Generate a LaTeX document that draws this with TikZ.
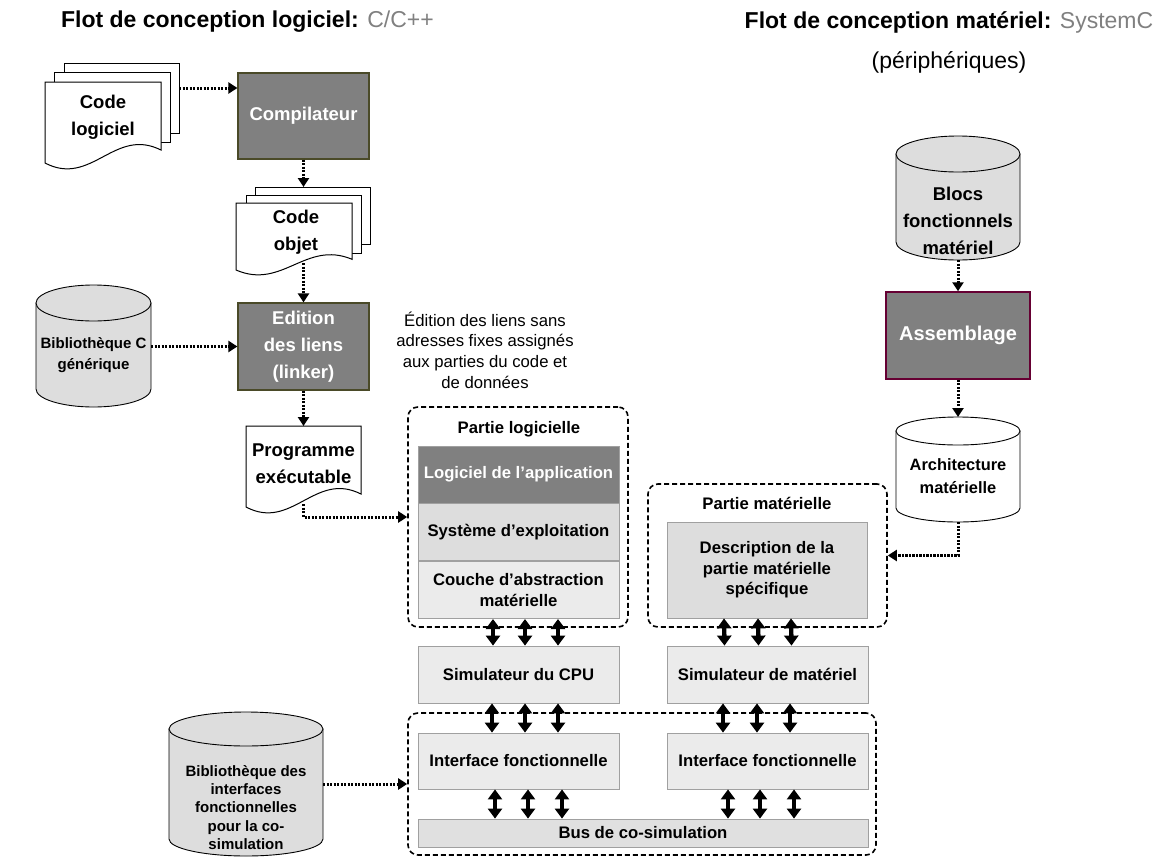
\documentclass[tikz,border=0pt]{standalone}
\usepackage{fontspec}
\setmainfont{Liberation Sans}
\usepackage{tikz}
\usetikzlibrary{arrows.meta}
\usetikzlibrary{positioning}
\usetikzlibrary{calc}

\definecolor{boxgray}{HTML}{808080}
\definecolor{layergray}{HTML}{DDDDDD}
\definecolor{palegray}{HTML}{EBEBEB}
\definecolor{edgegray}{HTML}{A0A0A0}
\definecolor{olivedark}{HTML}{4A4A28}
\definecolor{assemblyred}{HTML}{660033}
\definecolor{titlegray}{HTML}{808080}

\begin{document}
\begin{tikzpicture}[x=1pt, y=-1pt]
    \useasboundingbox (0,0) rectangle (1163,857);

    \newcommand{\docfont}[0]{\fontsize{18.5}{27}\selectfont\bfseries}
    \newcommand{\labelfont}[0]{\fontsize{16.7}{20.5}\selectfont\bfseries}
    \newcommand{\dbfont}[0]{\fontsize{15}{21}\selectfont\bfseries}

    \tikzstyle{title} = [
      align=center,
      inner sep=0pt,
      font=\fontsize{23}{40}\selectfont\bfseries,
    ]
    \tikzstyle{flow} = [
      line width=3pt,
      dash pattern=on 2.2pt off 1.3pt,
      -{Triangle[width=11pt,length=9pt]},
      draw=black,
    ]
    \tikzstyle{link} = [
      line width=4.4pt,
      {Triangle[width=14pt,length=10pt]}-{Triangle[width=14pt,length=10pt]},
      draw=black,
    ]
    \tikzstyle{tool} = [
      align=center,
      draw=olivedark,
      line width=1.2pt,
      fill=boxgray,
      text=white,
      font=\docfont,
      inner sep=0pt,
      minimum width=131pt,
      minimum height=86pt,
    ]
    \tikzstyle{doctext} = [
      align=center,
      font=\docfont,
      inner sep=0pt,
    ]
    \tikzstyle{docline} = [
      draw=black,
      fill=white,
      line width=1pt,
    ]
    \tikzstyle{dbtext} = [
      align=center,
      inner sep=0pt,
    ]
    \tikzstyle{zone} = [
      draw=black,
      dash pattern=on 5pt off 3pt,
      line width=1.6pt,
      rounded corners=10pt,
    ]
    \tikzstyle{layer} = [
      align=center,
      draw=edgegray,
      line width=0.8pt,
      font=\labelfont,
      inner sep=0pt,
      minimum width=201pt,
      minimum height=57pt,
    ]
    \tikzstyle{sim} = [
      layer,
      fill=palegray,
    ]

    % page with a wavy foot: left, top, right, bottom
    \newcommand{\docpage}[4]{
      \filldraw[docline] (#1,#2) -- (#3,#2) -- (#3,{#4-0.16*(#4-#2)})
        .. controls ({#1+0.6*(#3-#1)},{#4-0.45*(#4-#2)}) and ({#1+0.4*(#3-#1)},{#4+0.3*(#4-#2)}) .. (#1,#4) -- cycle;
    }
    % database drum: centre x, top, bottom, half width, cap radius, fill
    \newcommand{\dbcyl}[6]{
      \filldraw[draw=black, line width=0.9pt, fill=#6] (#1-#4,#2+#5) -- (#1-#4,#3-#5)
        .. controls (#1-#4,{#3-#5+0.552*#5}) and ({#1-0.552*#4},#3) .. (#1,#3)
        .. controls ({#1+0.552*#4},#3) and (#1+#4,{#3-#5+0.552*#5}) .. (#1+#4,#3-#5)
        -- (#1+#4,#2+#5) -- cycle;
      \filldraw[draw=black, line width=0.9pt, fill=#6] (#1,#2+#5) ellipse [x radius=#4, y radius=#5];
    }

    % titles
    {
      \node[title, anchor=east, font=\fontsize{23}{27}\selectfont\bfseries] (swFlow) at (434,22)
        {Flot de conception logiciel: {\mdseries\color{titlegray}C/C++}};
      \node[title] (hwFlow) at (949,42)
        {Flot de conception matériel: {\mdseries\color{titlegray}SystemC}\\{\mdseries(périphériques)}};
    }

    % software flow
    {
      \filldraw[docline] (64,63) rectangle (179,133);
      \filldraw[docline] (54,72) rectangle (170,142);
      \docpage{45}{82}{161}{163}
      \node[doctext] (codeSrc) at (103,117) {Code\\logiciel};
      \coordinate (codeOut) at (179,88);

      \node[tool] (compiler) at (303.5,116) {Compilateur};
      \draw[flow] (codeOut) -- (compiler.west |- codeOut);

      \filldraw[docline] (255,187) rectangle (370,244);
      \filldraw[docline] (246,195) rectangle (361,253);
      \docpage{236}{203}{352}{270}
      \node[doctext] (codeObj) at (296,232.5) {Code\\objet};
      \coordinate (objIn) at (303.5,187);
      \coordinate (objOut) at (303.5,263);
      \draw[flow] (compiler.south) -- (objIn);

      \node[tool, minimum height=87pt] (linker) at (303.5,346.5) {Edition\\des liens\\(linker)};
      \draw[flow] (objOut) -- (linker.north);

      \dbcyl{93.5}{285}{407}{57.5}{18}{layergray}
      \node[dbtext, font=\dbfont, minimum width=115pt] (libC) at (93.5,355.5) {Bibliothèque C\\générique};
      \draw[flow] (libC.east |- linker.west) -- (linker.west);

      \docpage{246}{426}{361}{507}
      \node[doctext] (prog) at (303.5,463.5) {Programme\\exécutable};
      \coordinate (progIn) at (303.5,426);
      \coordinate (progOut) at (303.5,504);
      \draw[flow] (linker.south) -- (progIn);

      \node[align=center, inner sep=0pt, font=\fontsize{16.7}{20.7}\selectfont] (linkNote) at (485,350)
        {Édition des liens sans\\adresses fixes assignés\\aux parties du code et\\de données};
    }

    % partie logicielle
    {
      \node[zone, minimum width=220pt, minimum height=220pt] (swPart) at (518,517) {};
      \node[font=\labelfont, inner sep=0pt] (swTitle) at (519,429) {Partie logicielle};
      \node[layer, fill=boxgray, text=white] (appSw) at (518.5,474.5) {Logiciel de l’application};
      \node[layer, fill=layergray, below=0pt of appSw] (os) {Système d’exploitation};
      \node[layer, fill=palegray, below=0pt of os] (hal) {Couche d’abstraction\\matérielle};
      \draw[flow] (progOut) |- (swPart.west);
    }

    % hardware flow
    {
      \dbcyl{958}{136}{260}{62}{18}{layergray}
      \node[dbtext, font=\docfont, align=center] (blocs) at (958,220.5) {Blocs\\fonctionnels\\matériel};
      \coordinate (blocsOut) at (958,260);

      \node[tool, draw=assemblyred, line width=1.5pt, minimum width=144pt, minimum height=87pt,
        font=\fontsize{20}{24}\selectfont\bfseries] (assembly) at (958,335.5) {Assemblage};
      \draw[flow] (blocsOut) -- (assembly.north);

      \dbcyl{958}{417}{522}{62}{14}{white}
      \node[dbtext, font=\fontsize{16.4}{23}\selectfont\bfseries] (archi) at (958,476.5) {Architecture\\matérielle};
      \coordinate (archIn) at (958,417);
      \coordinate (archOut) at (958,522);
      \draw[flow] (assembly.south) -- (archIn);
    }

    % partie materielle
    {
      \node[zone, minimum width=239pt, minimum height=143pt] (hwPart) at (767.5,555.5) {};
      \node[font=\labelfont, inner sep=0pt] (hwTitle) at (767,503) {Partie matérielle};
      \node[layer, fill=layergray, minimum width=200pt, minimum height=96pt] (desc) at (767,570)
        {Description de la\\partie matérielle\\spécifique};
      \draw[flow] (archOut) |- (hwPart.east);
    }

    % simulators
    {
      \node[sim] (simCPU) at (518.5,674.5) {Simulateur du CPU};
      \node[sim] (simHW) at (767.5,674.5) {Simulateur de matériel};
    }

    % co-simulation
    {
      \node[zone, minimum width=468pt, minimum height=142pt] (cosim) at (642,784) {};
      \node[sim, minimum height=56pt] (ifSW) at (518.5,761) {Interface fonctionnelle};
      \node[sim, minimum height=56pt] (ifHW) at (767.5,761) {Interface fonctionnelle};
      \node[sim, fill=palegray!90!gray, minimum width=450pt, minimum height=28pt] (bus) at (643,833) {Bus de co-simulation};

      \dbcyl{246}{712}{856}{77}{17}{layergray}
      \node[dbtext, font=\fontsize{15}{18.3}\selectfont\bfseries, minimum width=154pt] (libIf) at (246,807.5)
        {Bibliothèque des\\interfaces\\fonctionnelles\\pour la co-\\simulation};
      \draw[flow] (libIf.east |- cosim.west) -- (cosim.west);
    }

    % links
    {
      \foreach \dx in {-25.5, 6.5, 39.5}
        \draw[link] ([xshift=\dx pt] hal.south) -- ([xshift=\dx pt] simCPU.north);
      \foreach \dx in {-43, -9, 24}
        \draw[link] ([xshift=\dx pt] desc.south) -- ([xshift=\dx pt] simHW.north);
      \foreach \dx in {-26.5, 6.5, 39.5}
        \draw[link] ([xshift=\dx pt] simCPU.south) -- ([xshift=\dx pt] ifSW.north);
      \foreach \dx in {-44.5, -10.5, 22.5}
        \draw[link] ([xshift=\dx pt] simHW.south) -- ([xshift=\dx pt] ifHW.north);
      \foreach \dx in {-23.5, 9.5, 43.5}
        \draw[link] ([xshift=\dx pt] ifSW.south) -- ([xshift=\dx pt] ifSW.south |- bus.north);
      \foreach \dx in {-39.5, -7.5, 26.5}
        \draw[link] ([xshift=\dx pt] ifHW.south) -- ([xshift=\dx pt] ifHW.south |- bus.north);
    }
\end{tikzpicture}
\end{document}
